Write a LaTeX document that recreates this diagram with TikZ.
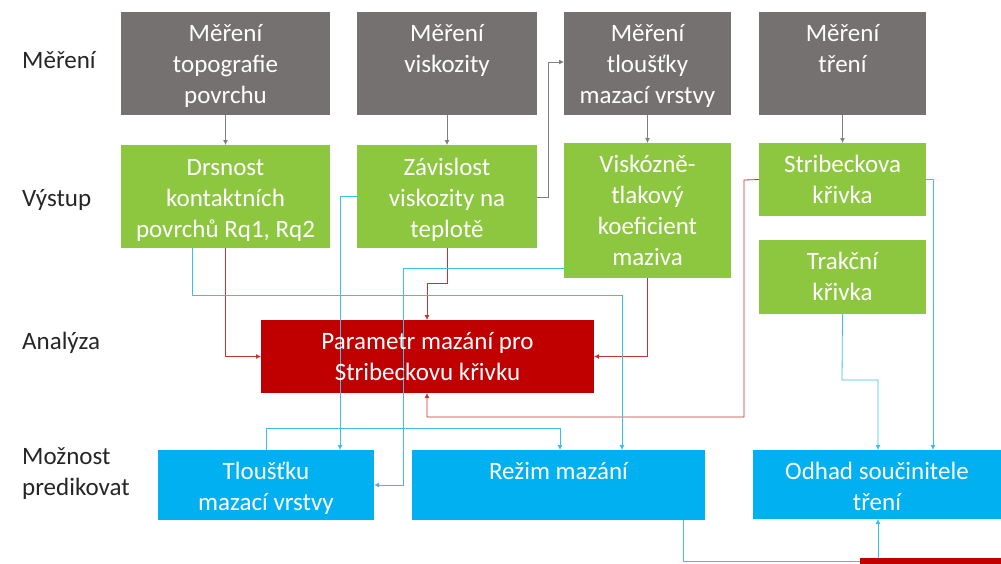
\documentclass[tikz,border=0pt]{standalone}
\usepackage{fontspec}
\setmainfont{Carlito}
\usetikzlibrary{arrows.meta}
\definecolor{boxgray}{HTML}{767171}
\definecolor{boxgreen}{HTML}{8DC63F}
\definecolor{boxred}{HTML}{C00000}
\definecolor{boxblue}{HTML}{00B0F0}
\definecolor{labelc}{HTML}{262626}
\definecolor{conngray}{HTML}{7F7F7F}
\definecolor{connred}{HTML}{C83232}
\definecolor{connblue}{HTML}{3CBDEE}
\newcommand\myst{\rule{0pt}{22pt}}
\begin{document}
\begin{tikzpicture}[x=1pt,y=-1pt,
  box/.style={draw=none, inner sep=0pt, outer sep=0pt, anchor=north west},
  graybox/.style={box, fill=boxgray},
  greenbox/.style={box, fill=boxgreen},
  redbox/.style={box, fill=boxred},
  bluebox/.style={box, fill=boxblue},
  txt/.style={anchor=north, inner sep=0pt, align=center, text=white, font=\fontsize{25}{31}\selectfont},
  rowlab/.style={anchor=base west, inner sep=0pt, align=left, text=labelc, font=\fontsize{25}{31}\selectfont},
  tip/.style={-{Latex[length=5pt,width=5pt]}},
  gconn/.style={draw=conngray, line width=0.8pt, tip},
  rconn/.style={draw=connred, line width=0.8pt, tip},
  bconn/.style={draw=connblue, line width=0.8pt, tip},
  bline/.style={draw=connblue, line width=0.8pt}
]
\useasboundingbox (0,0) rectangle (1001,563);
\fill[white] (0,0) rectangle (1001,563);
\clip (0,0) rectangle (1001,563);

% row labels
\node[rowlab] (lab1) at (22,68) {Měření};
\node[rowlab] (lab2) at (22,206) {Výstup};
\node[rowlab] (lab3) at (22,349) {Analýza};
\node[rowlab] (lab4) at (22,464) {Možnost};
\node[rowlab] (lab5) at (22,495) {predikovat};

% gray boxes
\node[graybox, minimum width=209, minimum height=103] (g1) at (121,12) {};
\node[graybox, minimum width=180, minimum height=103] (g2) at (357,12) {};
\node[graybox, minimum width=167, minimum height=103] (g3) at (564,12) {};
\node[graybox, minimum width=167, minimum height=103] (g4) at (759,12) {};
% green boxes
\node[greenbox, minimum width=209, minimum height=103] (o1) at (121,145) {};
\node[greenbox, minimum width=180, minimum height=103] (o2) at (357,145) {};
\node[greenbox, minimum width=167, minimum height=135] (o3) at (564,143) {};
\node[greenbox, minimum width=167, minimum height=73] (o4) at (759,143) {};
\node[greenbox, minimum width=167, minimum height=74] (o5) at (759,240) {};
% red box
\node[redbox, minimum width=333, minimum height=73] (r) at (261,320) {};
% blue boxes
\node[bluebox, minimum width=216, minimum height=70] (b1) at (158,450) {};
\node[bluebox, minimum width=293, minimum height=70] (b2) at (412,450) {};
\node[bluebox, minimum width=260, minimum height=69] (b3) at (753,450) {};

% connectors (drawn before bottom red box)
\draw[gconn] (g1.south) -- (o1.north);
\draw[gconn] (g2.south) -- (o2.north);
\draw[gconn] (g3.south) -- (o3.north);
\draw[gconn] (g4.south) -- (o4.north);
\draw[gconn] (o2.east |- 0,197) -- (548,197) -- (548,62) -- (g3.west |- 0,62);

\draw[rconn] (o1.south) |- (r.west);
\draw[rconn] (o2.south) -- (o2.south |- 0,283) -- (427,283) -- (r.north -| 427,0);
\draw[rconn] (o3.south) |- (r.east);
\draw[rconn] (o4.west) -- (744,180) -- (744,417) -- (427,417) -- (r.south -| 427,0);

\draw[bconn] (o1.south -| 192,0) -- (192,295) -- (622,295) -- (b2.north -| 622,0);
\draw[bconn] (o2.west) -| (b1.north -| 340,0);
\draw[bconn] (o3.west |- 0,268) -- (403,268) |- (b1.east);
\draw[bconn] (b1.north) |- (560,428) -- (b2.north -| 560,0);
\draw[bconn] (o4.east) -| (b3.north -| 933,0);
\draw[bconn] (o5.south) -- (842,380) -- (878,380) -- (b3.north -| 878,0);

% bottom red box (partly visible)
\draw[bline] (b2.south -| 683,0) -- (683,561) -- (870,561);
\node[redbox, minimum width=160, minimum height=40] (rb) at (860,558) {};
\draw[bconn] (rb.north -| 878,0) -- (b3.south -| 878,0);

% texts
\node[txt] (g1t) at ([yshift=-7pt]g1.north) {\myst Měření\\topografie\\povrchu};
\node[txt] (g2t) at ([yshift=-7pt]g2.north) {\myst Měření\\viskozity};
\node[txt] (g3t) at ([yshift=-7pt]g3.north) {\myst Měření\\tloušťky\\mazací vrstvy};
\node[txt] (g4t) at ([yshift=-7pt]g4.north) {\myst Měření\\tření};
\node[txt] (o1t) at ([yshift=-8pt]o1.north) {\myst Drsnost\\kontaktních\\povrchů Rq1, Rq2};
\node[txt] (o2t) at ([yshift=-8pt]o2.north) {\myst Závislost\\viskozity na\\teplotě};
\node[txt] (o3t) at ([yshift=-7pt]o3.north) {\myst Viskózně-\\tlakový\\koeficient\\maziva};
\node[txt] (o4t) at ([yshift=-7pt]o4.north) {\myst Stribeckova\\křivka};
\node[txt] (o5t) at ([yshift=-7pt]o5.north) {\myst Trakční\\křivka};
\node[txt] (rt) at ([yshift=-7pt]r.north) {\myst Parametr mazání pro\\Stribeckovu křivku};
\node[txt] (b1t) at ([yshift=-7pt]b1.north) {\myst Tloušťku\\mazací vrstvy};
\node[txt] (b2t) at ([yshift=-7pt]b2.north) {\myst Režim mazání};
\node[txt] (b3t) at ([yshift=-7pt]b3.north -| 877,0) {\myst Odhad součinitele\\tření};
\end{tikzpicture}
\end{document}
